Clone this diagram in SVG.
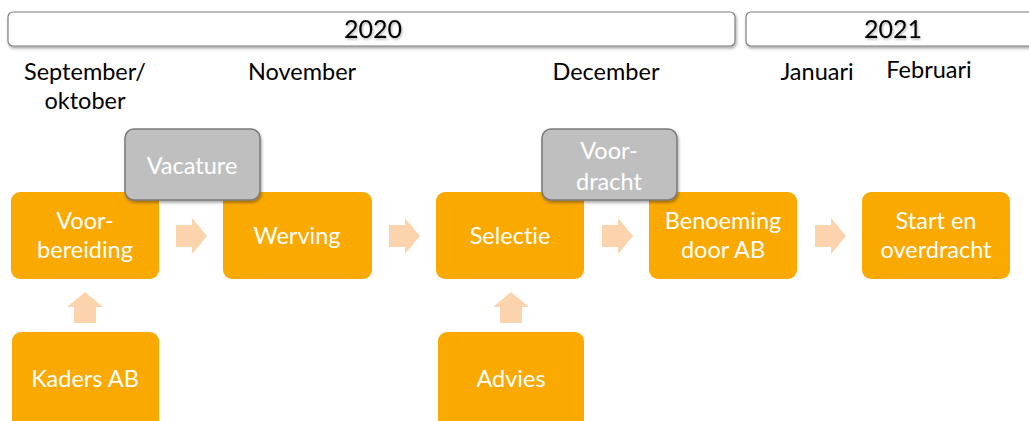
<svg xmlns="http://www.w3.org/2000/svg" width="1029" height="421" viewBox="0 0 1029 421">
<defs>
<filter id="sh" x="-10%" y="-20%" width="120%" height="150%">
<feDropShadow dx="1" dy="2" stdDeviation="1.5" flood-color="#000" flood-opacity="0.35"/>
</filter>
<filter id="tsh" x="-10%" y="-20%" width="120%" height="150%">
<feDropShadow dx="1" dy="1.5" stdDeviation="1" flood-color="#000" flood-opacity="0.3"/>
</filter>
</defs>
<style>
text{font-family:Lato,"Open Sans","Liberation Sans",sans-serif;text-anchor:middle;font-variant-ligatures:none}
.yr{fill:#fff;stroke:#7f7f7f;stroke-width:1.2}
.yt{font-size:25px;fill:#000}
.mo{font-size:23.5px;fill:#000}
.ob{fill:#FAA900}
.gb{fill:#BFBFBF;stroke:#7a7a7a;stroke-width:1.5}
.wt{font-size:23.5px;fill:#fff}
.ar{fill:#FBD3AC}
</style>
<g id="year2020">
<rect class="yr" x="8" y="12" width="727" height="34" rx="5" filter="url(#sh)"/>
<text class="yt" x="373" y="38" filter="url(#tsh)">2020</text>
</g>
<g id="year2021">
<rect class="yr" x="746" y="12" width="290" height="34" rx="5" filter="url(#sh)"/>
<text class="yt" x="893" y="38" filter="url(#tsh)">2021</text>
</g>
<g id="months">
<text class="mo" x="85" y="80">September/</text>
<text class="mo" x="85" y="109">oktober</text>
<text class="mo" x="302" y="80">November</text>
<text class="mo" x="606" y="80">December</text>
<text class="mo" x="817" y="80">Januari</text>
<text class="mo" x="929" y="78">Februari</text>
</g>
<g id="connectors">
<path class="ar" d="M176,225H192V218L207,236L192,254V247H176Z"/>
<path class="ar" d="M389,225H405V218L420,236L405,254V247H389Z"/>
<path class="ar" d="M602,225H618V218L633,236L618,254V247H602Z"/>
<path class="ar" d="M815,225H831V218L846,236L831,254V247H815Z"/>
<path class="ar" d="M74,323V307H67L85,292L103,307H96V323Z"/>
<path class="ar" d="M500,323V307H493L511,292L529,307H522V323Z"/>
</g>
<g id="voorbereiding">
<rect class="ob" x="11" y="192" width="148" height="87" rx="9"/>
<text class="wt" x="85" y="229">Voor-</text>
<text class="wt" x="85" y="258">bereiding</text>
</g>
<g id="werving">
<rect class="ob" x="223" y="192" width="149" height="87" rx="9"/>
<text class="wt" x="297" y="244">Werving</text>
</g>
<g id="selectie">
<rect class="ob" x="436" y="192" width="148" height="87" rx="9"/>
<text class="wt" x="510" y="244">Selectie</text>
</g>
<g id="benoeming">
<rect class="ob" x="649" y="192" width="148" height="87" rx="9"/>
<text class="wt" x="723" y="229">Benoeming</text>
<text class="wt" x="723" y="258">door AB</text>
</g>
<g id="start">
<rect class="ob" x="862" y="192" width="148" height="87" rx="9"/>
<text class="wt" x="936" y="229">Start en</text>
<text class="wt" x="936" y="258">overdracht</text>
</g>
<g id="kaders">
<rect class="ob" x="12" y="332" width="147" height="100" rx="9"/>
<text class="wt" x="85" y="387">Kaders AB</text>
</g>
<g id="advies">
<rect class="ob" x="438" y="332" width="146" height="100" rx="9"/>
<text class="wt" x="511" y="387">Advies</text>
</g>
<g id="vacature">
<rect class="gb" x="125" y="129" width="135" height="71" rx="9" filter="url(#sh)"/>
<text class="wt" x="192" y="174">Vacature</text>
</g>
<g id="voordracht">
<rect class="gb" x="542" y="129" width="135" height="71" rx="9" filter="url(#sh)"/>
<text class="wt" x="609" y="159">Voor-</text>
<text class="wt" x="609" y="190">dracht</text>
</g>
</svg>
